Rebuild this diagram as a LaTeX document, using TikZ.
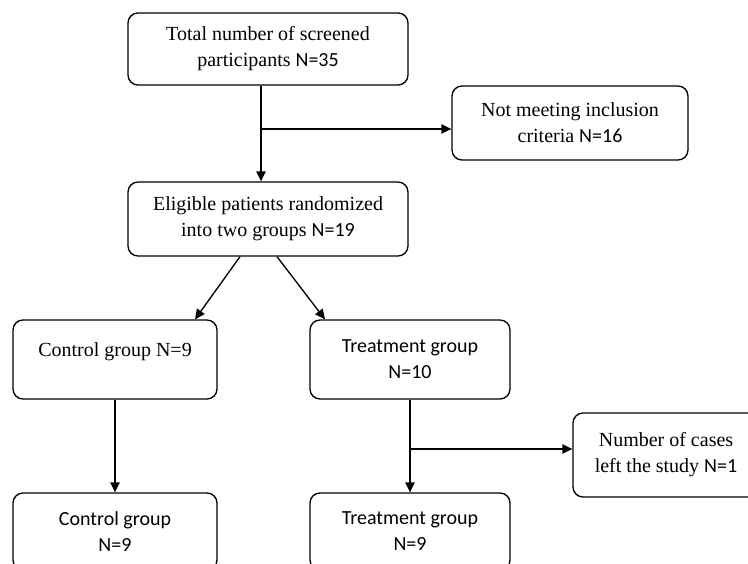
\documentclass[tikz,border=0pt]{standalone}
\usepackage{fontspec}
\setmainfont{Liberation Serif}
\newfontfamily\calfont{Carlito}
\usetikzlibrary{arrows.meta}
\tikzset{
    box/.style={draw,line width=1pt,rounded corners=7.5pt,align=center,
        inner sep=0pt,font=\fontsize{15}{19.5}\selectfont},
    arr/.style={line width=1pt,-{Triangle[length=7.5pt,width=7pt]}},
    ln/.style={line width=1pt}
}
\begin{document}
\begin{tikzpicture}[x=0.75pt,y=-0.75pt]
    \useasboundingbox (0,0) rectangle (748,563);
    \node[box,minimum width=210pt,minimum height=54pt] (total) at (268,49)
        {Total number of screened\\participants {\calfont N=35}};
    \node[box,minimum width=177pt,minimum height=55.5pt] (excl) at (570,123)
        {Not meeting inclusion\\criteria {\calfont N=16}};
    \node[box,minimum width=210pt,minimum height=55.5pt] (elig) at (268,219)
        {Eligible patients randomized\\into two groups {\calfont N=19}};
    \node[box,minimum width=153pt,minimum height=59.25pt] (ctrl) at (115,359.5)
        {Control group N=9\\[-4pt]~};
    \node[box,minimum width=150pt,minimum height=59.25pt,font=\fontsize{15}{19.5}\calfont] (treat) at (410,359.5)
        {Treatment group\\N=10};
    \node[box,minimum width=139.5pt,minimum height=63pt] (left) at (666,455)
        {Number of cases\\left the study {\calfont N=1}};
    \node[box,minimum width=153pt,minimum height=57.75pt,font=\fontsize{15}{19.5}\calfont] (ctrlend) at (115,531.5)
        {Control group\\N=9};
    \node[box,minimum width=150pt,minimum height=57.75pt,font=\fontsize{15}{19.5}\calfont] (treatend) at (410,531.5)
        {Treatment group\\N=9};

    \coordinate (j1) at (261,129);
    \draw[ln] (total.south -| j1) -- (j1);
    \draw[arr] (j1) -- (elig.north -| j1);
    \draw[arr] (j1) -- (excl.west |- j1);
    \draw[arr] ([shift={(-28,0)}]elig.south) -- ([shift={(80,0)}]ctrl.north);
    \draw[arr] ([shift={(9,0)}]elig.south) -- ([shift={(-85,0)}]treat.north);
    \draw[arr] (ctrl.south) -- (ctrlend.north);
    \coordinate (j2) at (410,449);
    \draw[ln] (treat.south) -- (j2);
    \draw[arr] (j2) -- (treatend.north);
    \draw[arr] (j2) -- (left.west |- j2);
\end{tikzpicture}
\end{document}
